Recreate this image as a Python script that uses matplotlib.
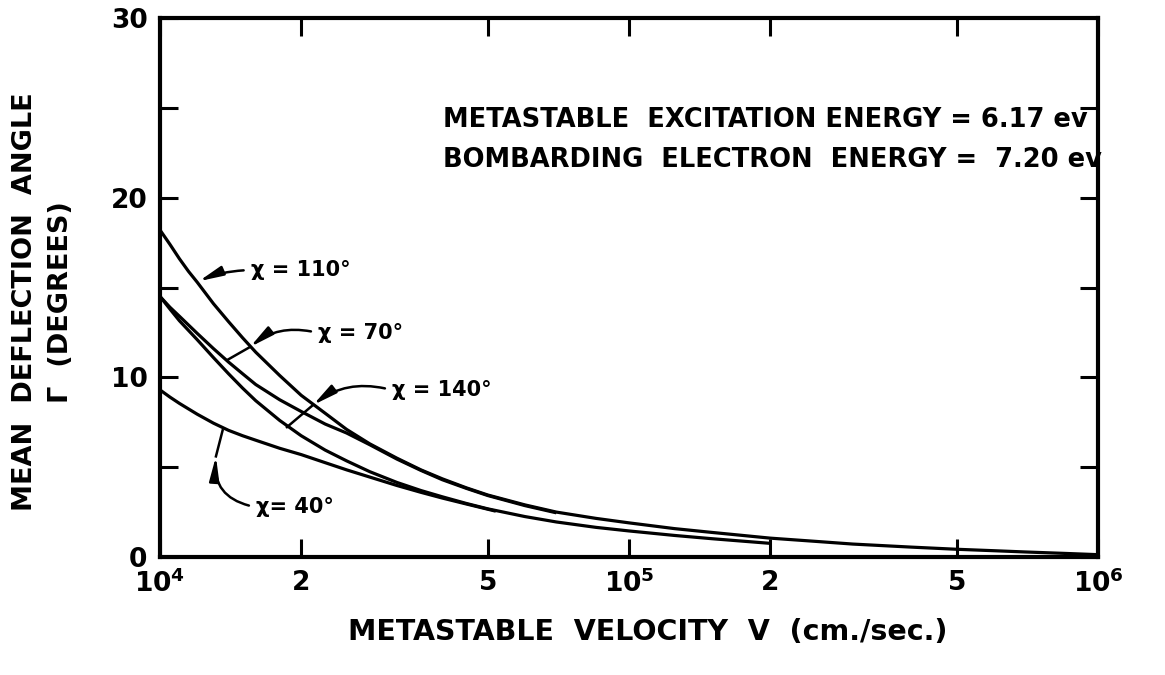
import matplotlib
matplotlib.use("Agg")
import matplotlib.pyplot as plt

# ---- data ----
v_110 = [1e4, 1.05e4, 1.1e4, 1.15e4, 1.2e4, 1.3e4, 1.4e4, 1.5e4, 1.6e4, 1.8e4, 2e4, 2.25e4, 2.5e4,
         2.8e4, 3.2e4, 3.6e4, 4e4, 4.5e4, 5e4, 6e4, 7e4, 8.5e4, 1e5, 1.25e5, 1.5e5, 2e5, 2.5e5,
         3e5, 4e5, 5e5, 6e5, 7e5, 8.5e5, 1e6]
g_110 = [18.2, 17.4, 16.6, 15.9, 15.3, 14.1, 13.1, 12.2, 11.4, 10.1, 9.0, 8.0, 7.1,
         6.3, 5.5, 4.85, 4.35, 3.85, 3.45, 2.9, 2.5, 2.15, 1.9, 1.58, 1.37, 1.05, 0.87,
         0.72, 0.55, 0.43, 0.35, 0.28, 0.2, 0.13]

v_70 = [1e4, 1.05e4, 1.1e4, 1.2e4, 1.3e4, 1.4e4, 1.5e4, 1.6e4, 1.8e4, 2e4, 2.25e4, 2.5e4,
        2.8e4, 3.2e4, 3.6e4, 4e4, 4.5e4, 5e4, 6e4, 7e4]
g_70 = [14.5, 13.9, 13.4, 12.45, 11.6, 10.85, 10.2, 9.6, 8.75, 8.1, 7.4, 6.9,
        6.25, 5.45, 4.82, 4.3, 3.82, 3.42, 2.86, 2.46]

v_140 = [1e4, 1.05e4, 1.1e4, 1.2e4, 1.3e4, 1.4e4, 1.5e4, 1.6e4, 1.8e4, 2e4, 2.25e4, 2.5e4,
         2.8e4, 3.2e4, 3.6e4, 4e4, 4.5e4, 5e4, 6e4, 7e4, 8.5e4, 1e5, 1.25e5, 1.5e5, 1.75e5, 2e5]
g_140 = [14.5, 13.8, 13.15, 12.1, 11.1, 10.2, 9.4, 8.7, 7.6, 6.75, 5.95, 5.35,
         4.75, 4.15, 3.7, 3.35, 2.98, 2.68, 2.25, 1.95, 1.65, 1.45, 1.2, 1.02, 0.88, 0.76]

v_40 = [1e4, 1.05e4, 1.1e4, 1.2e4, 1.3e4, 1.4e4, 1.5e4, 1.6e4, 1.8e4, 2e4, 2.25e4, 2.5e4,
        2.8e4, 3.2e4, 3.6e4, 4e4, 4.5e4, 5.2e4]
g_40 = [9.3, 8.9, 8.55, 7.95, 7.45, 7.05, 6.75, 6.5, 6.05, 5.7, 5.25, 4.85,
        4.45, 3.98, 3.6, 3.28, 2.95, 2.55]

curve_labels = ["χ = 110°", "χ = 70°", "χ = 140°", "χ= 40°"]

x_ticks = [1e4, 2e4, 5e4, 1e5, 2e5, 5e5, 1e6]
x_tick_labels = ["$\\mathbf{10^4}$", "2", "5", "$\\mathbf{10^5}$", "2", "5", "$\\mathbf{10^6}$"]
y_major = [0, 10, 20, 30]
y_minor = [5, 15, 25]

plt.rcParams['font.family'] = ['DejaVu Sans']
plt.rcParams['mathtext.fontset'] = 'dejavusans'

W, H = 1165, 675
fig = plt.figure(figsize=(W / 100, H / 100), dpi=100)
ax = fig.add_axes([160 / W, 1 - 557 / H, (1098 - 160) / W, (557 - 18) / H])

lw = 2.3
for v, g in [(v_110, g_110), (v_70, g_70), (v_140, g_140), (v_40, g_40)]:
    ax.plot(v, g, color='black', lw=lw, solid_capstyle='butt', solid_joinstyle='round')

ax.set_xscale('log')
ax.set_xlim(1e4, 1e6)
ax.set_ylim(0, 30)

ax.set_xticks(x_ticks)
ax.set_xticklabels(x_tick_labels)
ax.xaxis.set_minor_locator(matplotlib.ticker.NullLocator())
ax.set_yticks(y_major)
ax.set_yticks(y_minor, minor=True)
ax.set_yticklabels([str(t) for t in y_major])

for s in ax.spines.values():
    s.set_linewidth(3.0)

ax.tick_params(axis='both', which='both', direction='in', top=True, right=True,
               length=13, width=2.2, labelsize=19, pad=9)
for lab in ax.get_xticklabels() + ax.get_yticklabels():
    lab.set_fontweight('bold')

# curve annotations: (text position, wedge point, tip point, arc)
ann = [
    ((1.56e4, 15.97), (1.21e4, 15.35), None, 0.1),
    ((2.17e4, 12.47), (1.556e4, 11.69), (1.39e4, 10.96), 0.25),
    ((3.12e4, 9.29), (2.12e4, 8.46), (1.865e4, 7.23), 0.25),
    ((1.60e4, 2.78), (1.316e4, 5.6), (1.36e4, 7.05), -0.45),
]
for text, (tpos, wedge, tip, rad) in zip(curve_labels, ann):
    ax.annotate(text, xy=wedge, xytext=tpos, ha='left', va='center',
                fontsize=15, fontweight='bold',
                arrowprops=dict(arrowstyle='-|>,head_length=0.8,head_width=0.16',
                                connectionstyle=f'arc3,rad={rad}', color='black',
                                lw=1.8, mutation_scale=18, relpos=(0, 0.5),
                                shrinkA=3, shrinkB=0))
    if tip is not None:
        ax.plot([wedge[0], tip[0]], [wedge[1], tip[1]], color='black', lw=1.8)

fig.text(443 / W, 1 - 120 / H, "METASTABLE  EXCITATION ENERGY = 6.17 ev",
         fontsize=18.5, fontweight='bold', ha='left', va='center')
fig.text(443 / W, 1 - 160 / H, "BOMBARDING  ELECTRON  ENERGY =  7.20 ev",
         fontsize=18.5, fontweight='bold', ha='left', va='center')

fig.text(648 / W, 1 - 632 / H, "METASTABLE  VELOCITY  V  (cm./sec.)",
         fontsize=20.5, fontweight='bold', ha='center', va='center')
fig.text(43 / W, 1 - 302 / H, "MEAN  DEFLECTION  ANGLE\nΓ  (DEGREES)",
         fontsize=19.5, fontweight='bold', ha='center', va='center', rotation=90,
         multialignment='center', linespacing=1.5)

fig.savefig("out.png", dpi=100)
